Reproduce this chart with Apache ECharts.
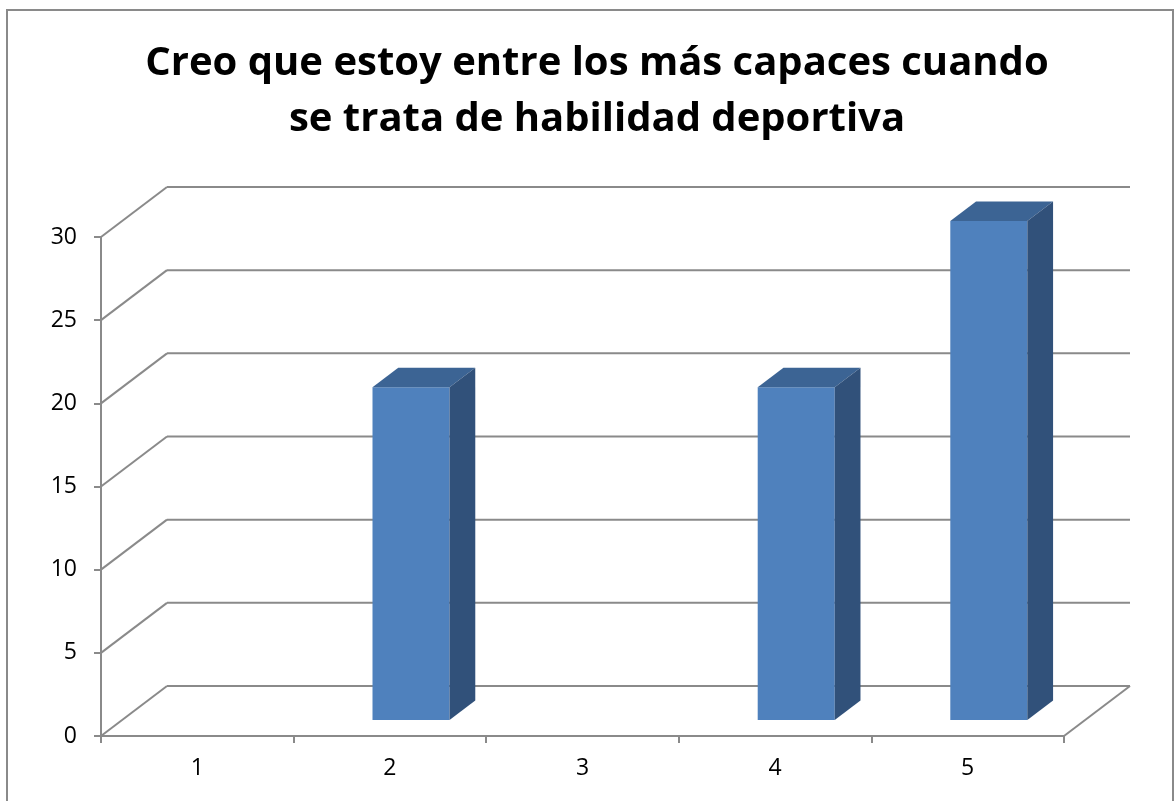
<!DOCTYPE html>
<html>
<head>
<meta charset="utf-8">
<script src="https://cdn.jsdelivr.net/npm/echarts@6/dist/echarts.min.js"></script>
<style>
  html, body { margin: 0; padding: 0; background: #fff; }
  #chart { width: 1175px; height: 801px; }
</style>
</head>
<body>
<div id="chart"></div>
<script>
// Survey answers (1-5 scale) and number of responses for each
const categories = ['1', '2', '3', '4', '5'];
const values = [0, 20, 0, 20, 30];
// Value axis range and step
const yMin = 0;
const yMax = 30;
const yStep = 5;
const yTicks = [0, 5, 10, 15, 20, 25, 30];

const titleText = 'Creo que estoy entre los más capaces cuando\nse trata de habilidad deportiva';

// Oblique projection used for the 3D look (pixels of the full floor depth)
const DEPTH_X = 66;
const DEPTH_Y = -50;
const BAR_FRONT = 0.32;   // fraction of the depth where bar fronts sit
const BAR_BACK = 0.71;    // fraction of the depth where bar backs sit
const BAR_HALF = 0.2;     // half bar width as a share of the category band

const GRID_COLOR = '#8a8a8a';
const FRONT = '#4f81bd';
const TOP = '#3c6494';
const SIDE = '#31517a';

const chart = echarts.init(document.getElementById('chart'), null, { renderer: 'canvas' });

function renderWalls(params, api) {
  const cs = params.coordSys;
  const v = api.value(0);
  const p = api.coord([0, v]);
  const x0 = cs.x;
  const x1 = cs.x + cs.width;
  const y = p[1];
  const style = { stroke: GRID_COLOR, lineWidth: 2, fill: null };
  const children = [
    { type: 'line', shape: { x1: x0, y1: y, x2: x0 + DEPTH_X, y2: y + DEPTH_Y }, style },
    { type: 'line', shape: { x1: x0 + DEPTH_X, y1: y + DEPTH_Y, x2: x1 + DEPTH_X, y2: y + DEPTH_Y }, style }
  ];
  if (v === yMin) {
    children.push({ type: 'line', shape: { x1: x1, y1: y, x2: x1 + DEPTH_X, y2: y + DEPTH_Y }, style });
  }
  return { type: 'group', children };
}

function renderBar(params, api) {
  const v = api.value(1);
  if (!v) return null;
  const top = api.coord([api.value(0), v]);
  const base = api.coord([api.value(0), yMin]);
  const band = api.size([1, 0])[0];
  const half = band * BAR_HALF;
  const fx = DEPTH_X * BAR_FRONT, fy = DEPTH_Y * BAR_FRONT;
  const dx = DEPTH_X * (BAR_BACK - BAR_FRONT), dy = DEPTH_Y * (BAR_BACK - BAR_FRONT);
  const l = top[0] - half + fx;
  const r = top[0] + half + fx;
  const t = top[1] + fy;
  const b = base[1] + fy;
  return {
    type: 'group',
    children: [
      { type: 'rect', shape: { x: l, y: t, width: r - l, height: b - t }, style: { fill: FRONT } },
      { type: 'polygon', shape: { points: [[l, t], [l + dx, t + dy], [r + dx, t + dy], [r, t]] }, style: { fill: TOP } },
      { type: 'polygon', shape: { points: [[r, t], [r + dx, t + dy], [r + dx, b + dy], [r, b]] }, style: { fill: SIDE } }
    ]
  };
}

chart.setOption({
  animation: false,
  backgroundColor: '#ffffff',
  graphic: [
    {
      type: 'rect',
      shape: { x: 7, y: 10, width: 1166, height: 800 },
      style: { fill: null, stroke: '#8a8a8a', lineWidth: 2 },
      silent: true
    },
    {
      type: 'text',
      x: 597,
      y: 36,
      silent: true,
      style: {
        text: titleText,
        align: 'center',
        verticalAlign: 'top',
        fontFamily: 'Open Sans',
        fontWeight: 'bold',
        fontSize: 40,
        lineHeight: 56,
        fill: '#000'
      }
    }
  ],
  grid: { left: 101, right: 111, top: 237, bottom: 65 },
  xAxis: {
    type: 'category',
    data: categories,
    boundaryGap: true,
    axisLine: { lineStyle: { color: GRID_COLOR, width: 2 } },
    axisTick: { show: true, length: 7, lineStyle: { color: GRID_COLOR, width: 2 } },
    axisLabel: { color: '#000', fontFamily: 'Open Sans', fontSize: 23, margin: 21 },
    splitLine: { show: false }
  },
  yAxis: {
    type: 'value',
    min: yMin,
    max: yMax,
    interval: yStep,
    axisLine: { show: true, lineStyle: { color: GRID_COLOR, width: 2 } },
    axisTick: { show: true, length: 7, lineStyle: { color: GRID_COLOR, width: 2 } },
    axisLabel: { color: '#000', fontFamily: 'Open Sans', fontSize: 23, margin: 24 },
    splitLine: { show: false }
  },
  series: [
    {
      type: 'custom',
      name: 'walls',
      clip: false,
      silent: true,
      z: 1,
      renderItem: renderWalls,
      encode: { y: 0 },
      data: yTicks.map(t => [t])
    },
    {
      type: 'custom',
      name: 'Respuestas',
      clip: false,
      z: 3,
      renderItem: renderBar,
      encode: { x: 0, y: 1 },
      data: categories.map((c, i) => [i, values[i]])
    }
  ]
});
</script>
</body>
</html>
